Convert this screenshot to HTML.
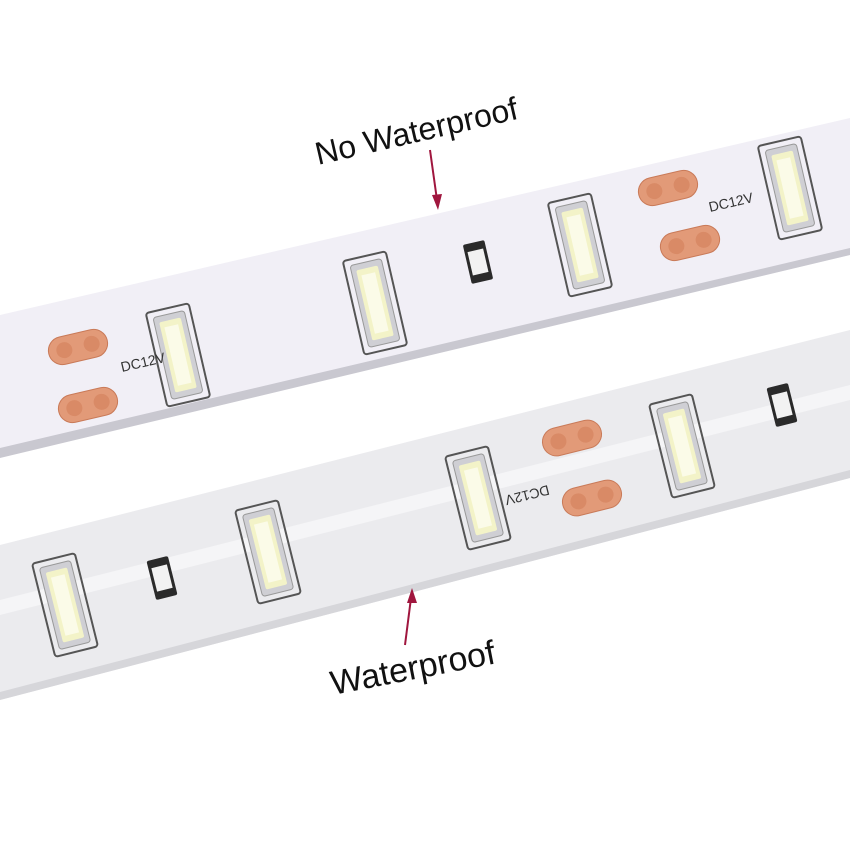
<!DOCTYPE html>
<html><head><meta charset="utf-8"><style>
html,body{margin:0;padding:0;background:#fff;}
svg{display:block}
text{font-family:"Liberation Sans",sans-serif}
</style></head><body>
<svg width="850" height="850" viewBox="0 0 850 850" xmlns="http://www.w3.org/2000/svg">
<defs>
<g id="led">
  <rect x="-22" y="-48" width="44" height="96" rx="3" fill="none" stroke="#555" stroke-width="2"/>
  <rect x="-16" y="-42" width="32" height="84" rx="3" fill="#cfcfd4" stroke="#999"/>
  <rect x="-11" y="-36" width="22" height="72" rx="2" fill="#f3f3c8"/>
  <rect x="-7" y="-30" width="14" height="60" fill="#fbfbe8"/>
</g>
<g id="pad">
  <rect x="-30" y="-14" width="60" height="28" rx="14" fill="#e29a78" stroke="#c97a58"/>
  <circle cx="-14" cy="0" r="8" fill="#d98a66"/>
  <circle cx="14" cy="0" r="8" fill="#d98a66"/>
</g>
<g id="res">
  <rect x="-11" y="-20" width="22" height="40" rx="2" fill="#2a2a2a"/>
  <rect x="-8" y="-12" width="16" height="24" fill="#f2f2f2"/>
</g>
</defs>

<!-- top strip -->
<polygon points="0,315 850,118 850,255 0,455" fill="#f1eff6"/>
<polygon points="0,448 850,248 850,255 0,458" fill="#c9c8d0"/>
<g transform="rotate(-13)">
</g>
<g transform="translate(178,355) rotate(-13)"><use href="#led"/></g>
<g transform="translate(375,303) rotate(-13)"><use href="#led"/></g>
<g transform="translate(580,245) rotate(-13)"><use href="#led"/></g>
<g transform="translate(790,188) rotate(-13)"><use href="#led"/></g>
<g transform="translate(478,262) rotate(-13)"><use href="#res"/></g>
<g transform="translate(78,347) rotate(-13)"><use href="#pad"/></g>
<g transform="translate(88,405) rotate(-13)"><use href="#pad"/></g>
<g transform="translate(668,188) rotate(-13)"><use href="#pad"/></g>
<g transform="translate(690,243) rotate(-13)"><use href="#pad"/></g>
<g transform="translate(122,372) rotate(-13)"><text x="0" y="0" font-size="14" font-family="Liberation Serif" fill="#333">DC12V</text></g>
<g transform="translate(710,212) rotate(-13)"><text x="0" y="0" font-size="14" font-family="Liberation Serif" fill="#333">DC12V</text></g>

<!-- bottom strip -->
<polygon points="0,545 850,330 850,478 0,700" fill="#ebebee"/>
<polygon points="0,600 850,385 850,400 0,615" fill="#f5f5f7"/>
<polygon points="0,692 850,470 850,478 0,700" fill="#d6d6da"/>
<g transform="translate(65,605) rotate(-14)"><use href="#led"/></g>
<g transform="translate(268,552) rotate(-14)"><use href="#led"/></g>
<g transform="translate(478,498) rotate(-14)"><use href="#led"/></g>
<g transform="translate(682,446) rotate(-14)"><use href="#led"/></g>
<g transform="translate(162,578) rotate(-14)"><use href="#res"/></g>
<g transform="translate(782,405) rotate(-14)"><use href="#res"/></g>
<g transform="translate(572,438) rotate(-14)"><use href="#pad"/></g>
<g transform="translate(592,498) rotate(-14)"><use href="#pad"/></g>
<g transform="translate(548,485) rotate(166)"><text x="0" y="0" font-size="14" font-family="Liberation Serif" fill="#333">DC12V</text></g>

<!-- labels -->
<g transform="translate(318,165) rotate(-13)"><text x="0" y="0" font-size="32" fill="#111">No Waterproof</text></g>
<line x1="430" y1="150" x2="437" y2="200" stroke="#a0163e" stroke-width="2"/>
<polygon points="438,210 432,195 442,194" fill="#a0163e"/>
<g transform="translate(333,695) rotate(-11)"><text x="0" y="0" font-size="34" fill="#111">Waterproof</text></g>
<line x1="405" y1="645" x2="411" y2="598" stroke="#a0163e" stroke-width="2"/>
<polygon points="412,588 407,603 417,603" fill="#a0163e"/>
</svg>
</body></html>
